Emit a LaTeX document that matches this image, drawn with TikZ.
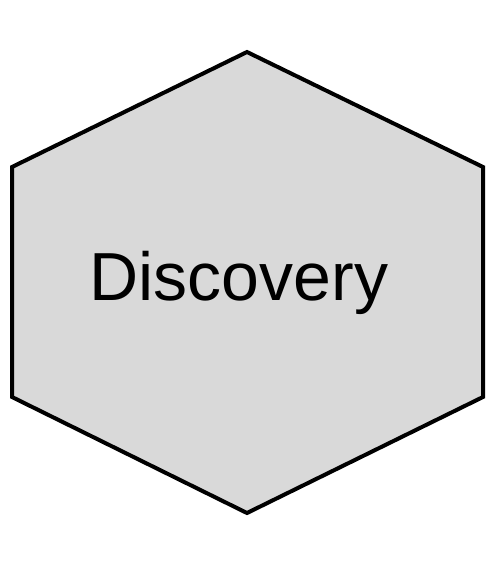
\documentclass[tikz,border=0pt]{standalone}
\usepackage{fontspec}
\setmainfont{Liberation Sans}
\begin{document}
\begin{tikzpicture}[x=1pt,y=-1pt,
  hexstyle/.style={draw=black,fill={rgb,255:red,217;green,217;blue,217},line width=4pt,line join=miter},
  labelstyle/.style={font=\fontsize{68}{80}\selectfont,text=black,inner sep=0pt}]
\useasboundingbox (0,0) rectangle (500,570);
\fill[white] (0,0) rectangle (500,570);
\draw[hexstyle] (247,52) -- (483,167) -- (483,397) -- (247,513) -- (12,397) -- (12,167) -- cycle;
\node[labelstyle,anchor=base] (lbl) at (239,300) {Discovery};
\end{tikzpicture}
\end{document}
